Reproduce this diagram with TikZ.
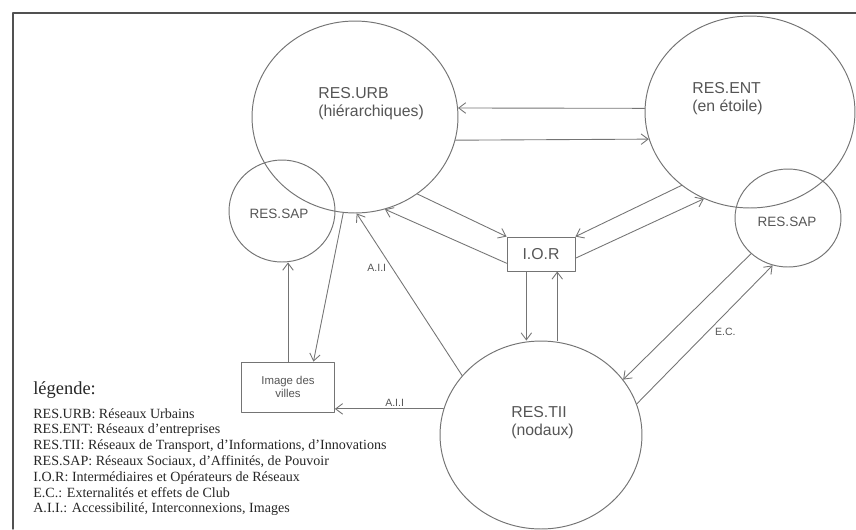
\documentclass[tikz,border=0pt]{standalone}
\usepackage{fontspec}
\setmainfont{Liberation Serif}
\setsansfont{Liberation Sans}
\usetikzlibrary{shapes.geometric,arrows.meta}
\definecolor{linec}{HTML}{747474}
\definecolor{txtc}{HTML}{555555}
\definecolor{legc}{HTML}{262626}
\tikzset{
  net/.style={ellipse, draw=linec, line width=0.55pt, inner sep=0pt},
  cadre/.style={rectangle, draw=linec, line width=0.5pt, inner sep=1pt, text=txtc, font=\sffamily\fontsize{6.5}{7.5}\selectfont},
  lbl/.style={text=txtc, font=\sffamily\fontsize{9}{10.2}\selectfont, inner sep=0pt},
  fl/.style={draw=linec, line width=0.5pt, -{Straight Barb[length=4pt,width=6pt]}},
  petit/.style={text=txtc, font=\sffamily\fontsize{6}{7}\selectfont, inner sep=1pt},
  legtxt/.style={text=legc, font=\fontsize{8}{9}\selectfont, inner sep=0pt},
}
\begin{document}
\begin{tikzpicture}[x=0.02cm, y=-0.02cm, line join=round, line cap=round]
	\useasboundingbox (0,0) rectangle (856,529);
	% cadre
	\draw[linec!70!black, line width=0.8pt] (13,529) -- (13,13) -- (856,13);
	
	% réseaux
	\node[net, minimum width=4.12cm, minimum height=3.84cm] (urb) at (355,117) {};
	\node[net, minimum width=4.2cm, minimum height=3.84cm] (ent) at (750,112) {};
	\node[net, minimum width=2.12cm, minimum height=2.04cm] (sapl) at (282,211) {};
	\node[net, minimum width=2.12cm, minimum height=1.96cm] (sapr) at (788,218) {};
	\node[net, minimum width=4.04cm, minimum height=3.76cm] (tii) at (541,435) {};
	\node[cadre, minimum width=1.36cm, minimum height=0.68cm, font=\sffamily\fontsize{9}{10}\selectfont] (ior) at (541,254) {I.O.R};
	\node[cadre, minimum width=1.86cm, minimum height=1cm, align=center] (img) at (288,387) {Image des\\villes};
	
	% textes des réseaux
	\node[lbl, align=left, anchor=west] (urbtxt) at (318,104) {RES.URB\\(hiérarchiques)};
	\node[lbl, align=left, anchor=west] (enttxt) at (692,99) {RES.ENT\\(en étoile)};
	\node[lbl, font=\sffamily\fontsize{7.7}{9}\selectfont] (sapltxt) at (279,214) {RES.SAP};
	\node[lbl, font=\sffamily\fontsize{7.7}{9}\selectfont] (saprtxt) at (787,222) {RES.SAP};
	\node[lbl, align=left, anchor=west] (tiitxt) at (511,423) {RES.TII\\(nodaux)};
	
	% flèches
	\draw[fl] (ent.178) -- (urb.5);
	\draw[fl] (urb.-13) -- (ent.-165);
	\draw[fl] (urb.-51) -- (ior.north west);
	\draw[fl] (ior.195) -- (urb.-72);
	\draw[fl] (ent.227) -- (ior.north east);
	\draw[fl] (ior.-7) -- (ent.242);
	\draw[fl] (ior.230) -- (ior.230 |- tii.north);
	\draw[fl] (ior.-47 |- tii.north) -- (ior.-47);
	\draw[fl] (sapr.224) -- (tii.34);
	\draw[fl] (tii.18) -- node[petit, pos=.56, below right] (ec) {E.C.} (sapr.252);
	\draw[fl] (tii.143) -- node[petit, pos=.7, below left] (aiia) {A.I.I} (urb.-89);
	\draw[fl] (tii.165) -- node[petit, pos=.45, above] (aiib) {A.I.I} (tii.165 -| img.east);
	\draw[fl] (img.north) -- (img.north |- sapl.south);
	\draw[fl] (urb.263) -- (img.45);
	
	% légende
	\node[text=legc, font=\fontsize{10.5}{12}\selectfont, anchor=west, inner sep=0pt] (legtitre) at (33,390) {légende:};
	\foreach \txt [count=\i] in {{RES.URB: Réseaux Urbains},
		{RES.ENT: Réseaux d'entreprises},
		{RES.TII: Réseaux de Transport, d'Informations, d'Innovations},
		{RES.SAP: Réseaux Sociaux, d'Affinités, de Pouvoir},
		{I.O.R: Intermédiaires et Opérateurs de Réseaux},
		{E.C.: Externalités et effets de Club},
		{A.I.I.: Accessibilité, Interconnexions, Images}}
		\node[legtxt, anchor=base west] (leg\i) at (33,402.2+15.8*\i) {\txt};
\end{tikzpicture}
\end{document}
